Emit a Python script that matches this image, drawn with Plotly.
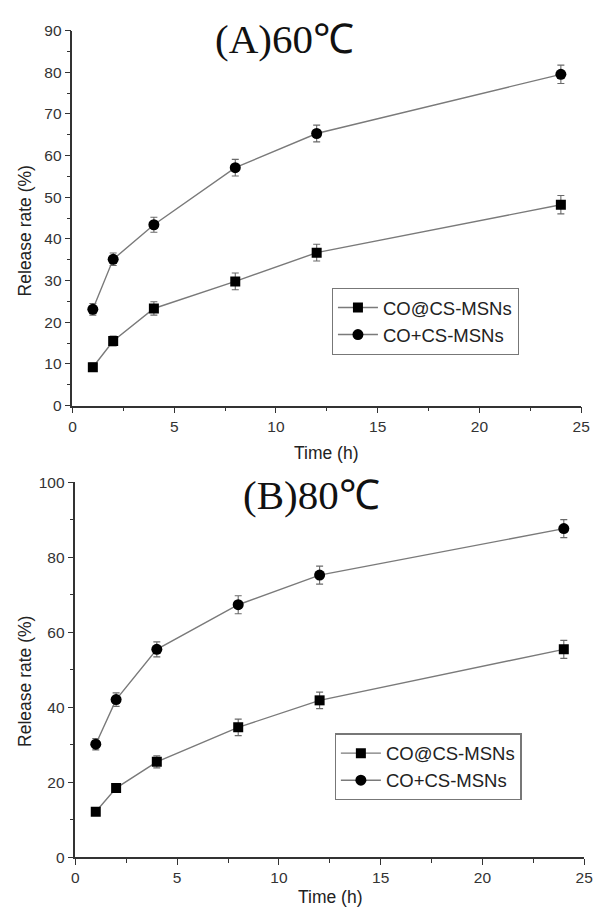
import plotly.graph_objects as go

time_h = [1, 2, 4, 8, 12, 24]

# (A) 60 °C
a_co_at = [9.2, 15.5, 23.3, 29.8, 36.7, 48.2]
a_co_at_err = [1.0, 1.2, 1.6, 2.0, 2.0, 2.2]
a_co_plus = [23.1, 35.1, 43.4, 57.1, 65.3, 79.5]
a_co_plus_err = [1.4, 1.5, 1.8, 2.0, 2.0, 2.2]

# (B) 80 °C
b_co_at = [12.1, 18.4, 25.4, 34.6, 41.8, 55.4]
b_co_at_err = [1.0, 1.0, 1.6, 2.2, 2.2, 2.4]
b_co_plus = [30.1, 42.0, 55.4, 67.3, 75.2, 87.6]
b_co_plus_err = [1.5, 1.8, 2.0, 2.4, 2.4, 2.4]

series_names = ["CO@CS-MSNs", "CO+CS-MSNs"]
titles = ["(A)60℃", "(B)80℃"]

LINE = "#7a7a7a"
MARK = "#000000"
AX = "#333333"
FONT = "Liberation Sans, Arial, sans-serif"

fig = go.Figure()

def add(x, y, err, name, symbol, xa, ya, legend, size):
    fig.add_trace(go.Scatter(
        x=x, y=y, name=name, mode="lines+markers",
        line=dict(color=LINE, width=1.4),
        marker=dict(symbol=symbol, color=MARK, size=size),
        error_y=dict(type="data", array=err, color="#6a6a6a", thickness=1.1, width=3.5),
        xaxis=xa, yaxis=ya, legend=legend,
    ))

add(time_h, a_co_at, a_co_at_err, series_names[0], "square", "x", "y", "legend", 10)
add(time_h, a_co_plus, a_co_plus_err, series_names[1], "circle", "x", "y", "legend", 11)
add(time_h, b_co_at, b_co_at_err, series_names[0], "square", "x2", "y2", "legend2", 10)
add(time_h, b_co_plus, b_co_plus_err, series_names[1], "circle", "x2", "y2", "legend2", 11)

W, H = 600, 923

def axis(domain, rng, dtick, minor_dtick, anchor):
    return dict(
        domain=domain, range=rng, dtick=dtick, anchor=anchor,
        showgrid=False, zeroline=False, showline=True, linecolor=AX, linewidth=1.6,
        ticks="outside", ticklen=6, tickwidth=1.4, tickcolor=AX,
        minor=dict(dtick=minor_dtick, ticks="outside", ticklen=4, tickwidth=1.2, tickcolor=AX, showgrid=False),
        tickfont=dict(family=FONT, size=15.5, color="#333333"),
        mirror=False,
    )

ya_dom = [(H - 404) / H, (H - 22) / H]
yb_dom = [(H - 864) / H, (H - 482) / H]

leg_common = dict(xanchor="left", yanchor="top",
                  bordercolor="#777777", borderwidth=1.2, bgcolor="white",
                  font=dict(family=FONT, size=18.5, color="#222222"),
                  tracegroupgap=0, itemwidth=40)

fig.update_layout(
    width=W, height=H,
    margin=dict(l=0, r=0, t=0, b=0),
    paper_bgcolor="white", plot_bgcolor="white",
    showlegend=True,
    xaxis=axis([70 / W, 590 / W], [0, 25], 5, 2.5, "y"),
    yaxis=axis(ya_dom, [0, 90], 10, 5, "x"),
    xaxis2=axis([73 / W, 593 / W], [0, 25], 5, 2.5, "y2"),
    yaxis2=axis(yb_dom, [0, 100], 20, 10, "x2"),
    legend=dict(x=335 / W, y=(H - 284) / H, **leg_common),
    legend2=dict(x=338 / W, y=(H - 738) / H, **leg_common),
)

anns = [
    dict(text=titles[0], x=287 / W, y=(H - 31) / H),
    dict(text=titles[1], x=314 / W, y=(H - 495) / H),
]
for a in anns:
    fig.add_annotation(xref="paper", yref="paper", showarrow=False,
                       xanchor="center", yanchor="middle",
                       font=dict(family="Liberation Serif, Times New Roman, serif", size=41, color="#111111"),
                       **a)

for txt, x, y, ang in [
    ("Release rate (%)", 21, 226, -90),
    ("Time (h)", 330, 452, 0),
    ("Release rate (%)", 22, 685, -90),
    ("Time (h)", 334, 905, 0),
]:
    fig.add_annotation(xref="paper", yref="paper", showarrow=False,
                       x=x / W, y=(H - y) / H, xanchor="center", yanchor="middle",
                       textangle=ang, text=txt,
                       font=dict(family=FONT, size=17.5, color="#222222"))

fig.write_html("out.html")
